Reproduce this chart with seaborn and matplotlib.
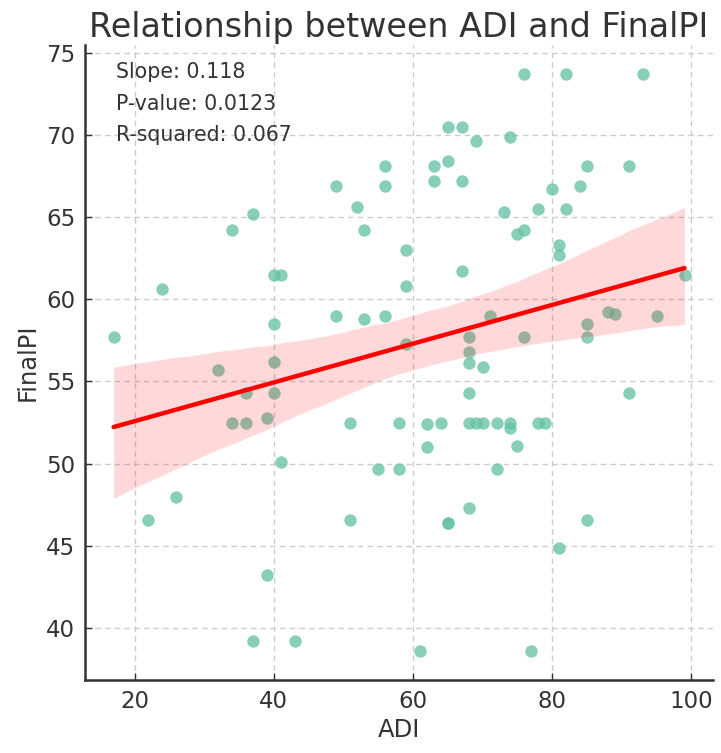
import matplotlib
matplotlib.use("Agg")
import matplotlib.pyplot as plt
import seaborn as sns
import pandas as pd

# Area Deprivation Index vs. final performance index, one entry per subject
adi = [17, 22, 24, 26, 32, 34, 34, 36, 36, 37, 37, 39, 39, 40, 40, 40, 40, 41, 41, 43,
       49, 49, 51, 51, 52, 53, 53, 55, 56, 56, 56, 58, 58, 59, 59, 59, 61, 62, 62, 63,
       63, 64, 65, 65, 65, 65, 67, 67, 67, 68, 68, 68, 68, 68, 68, 69, 69, 70, 70, 71,
       72, 72, 73, 74, 74, 74, 75, 75, 76, 76, 76, 77, 78, 78, 79, 80, 81, 81, 81, 82,
       82, 84, 85, 85, 85, 85, 88, 89, 91, 91, 93, 95, 99]
final_pi = [57.7, 46.6, 60.6, 48.0, 55.7, 64.2, 52.5, 54.3, 52.5, 65.2, 39.2, 52.8, 43.2,
            61.5, 58.5, 56.2, 54.3, 61.5, 50.1, 39.2,
            66.9, 59.0, 52.5, 46.6, 65.6, 64.2, 58.8, 49.7, 68.1, 66.9, 59.0, 52.5, 49.7,
            63.0, 60.8, 57.3, 38.6, 52.4, 51.0, 68.1,
            67.2, 52.5, 70.5, 68.4, 46.4, 46.4, 70.5, 67.2, 61.7, 57.7, 56.8, 56.1, 54.3,
            52.5, 47.3, 69.6, 52.5, 55.9, 52.5, 59.0,
            52.5, 49.7, 65.3, 69.9, 52.5, 52.2, 64.0, 51.1, 73.7, 64.2, 57.7, 38.6, 65.5,
            52.5, 52.5, 66.7, 63.3, 62.7, 44.9, 73.7,
            65.5, 66.9, 68.1, 58.5, 57.7, 46.6, 59.2, 59.1, 68.1, 54.3, 73.7, 59.0, 61.5]

stats_lines = ["Slope: 0.118", "P-value: 0.0123", "R-squared: 0.067"]

df = pd.DataFrame({"ADI": adi, "FinalPI": final_pi})

sns.set_style("white")
plt.rcParams["font.family"] = ["DejaVu Sans"]

fig = plt.figure(figsize=(7.21, 7.53), dpi=100)
ax = fig.add_axes([0.118, 0.097, 0.871, 0.843])

sns.regplot(
    data=df, x="ADI", y="FinalPI", ax=ax, color="red", seed=7,
    scatter_kws={"color": "#66c2a5", "alpha": 0.78, "s": 80, "linewidths": 0},
    line_kws={"color": "red", "lw": 3.2},
)

ax.grid(True, linestyle=(0, (4, 3)), color="#cccccc", linewidth=1)
ax.set_axisbelow(True)
for side in ("top", "right"):
    ax.spines[side].set_visible(False)
for side in ("left", "bottom"):
    ax.spines[side].set_color("#333333")
    ax.spines[side].set_linewidth(1.8)

ax.tick_params(axis="both", which="major", labelsize=16.5, colors="#333333",
               length=5, width=1, direction="in", pad=7, left=True, bottom=True)
ax.set_xticks([20, 40, 60, 80, 100])
ax.set_yticks([40, 45, 50, 55, 60, 65, 70, 75])
ax.set_xlabel("ADI", fontsize=17.5, color="#333333", labelpad=4)
ax.set_ylabel("FinalPI", fontsize=17.5, color="#333333", labelpad=5)
ax.set_title("Relationship between ADI and FinalPI", fontsize=24, color="#333333", pad=6)

for i, line in enumerate(stats_lines):
    ax.text(0.05, 0.957 - 0.049 * i, line, transform=ax.transAxes,
            fontsize=14.8, color="#333333", va="center", ha="left")

fig.savefig("out.png", dpi=100)
